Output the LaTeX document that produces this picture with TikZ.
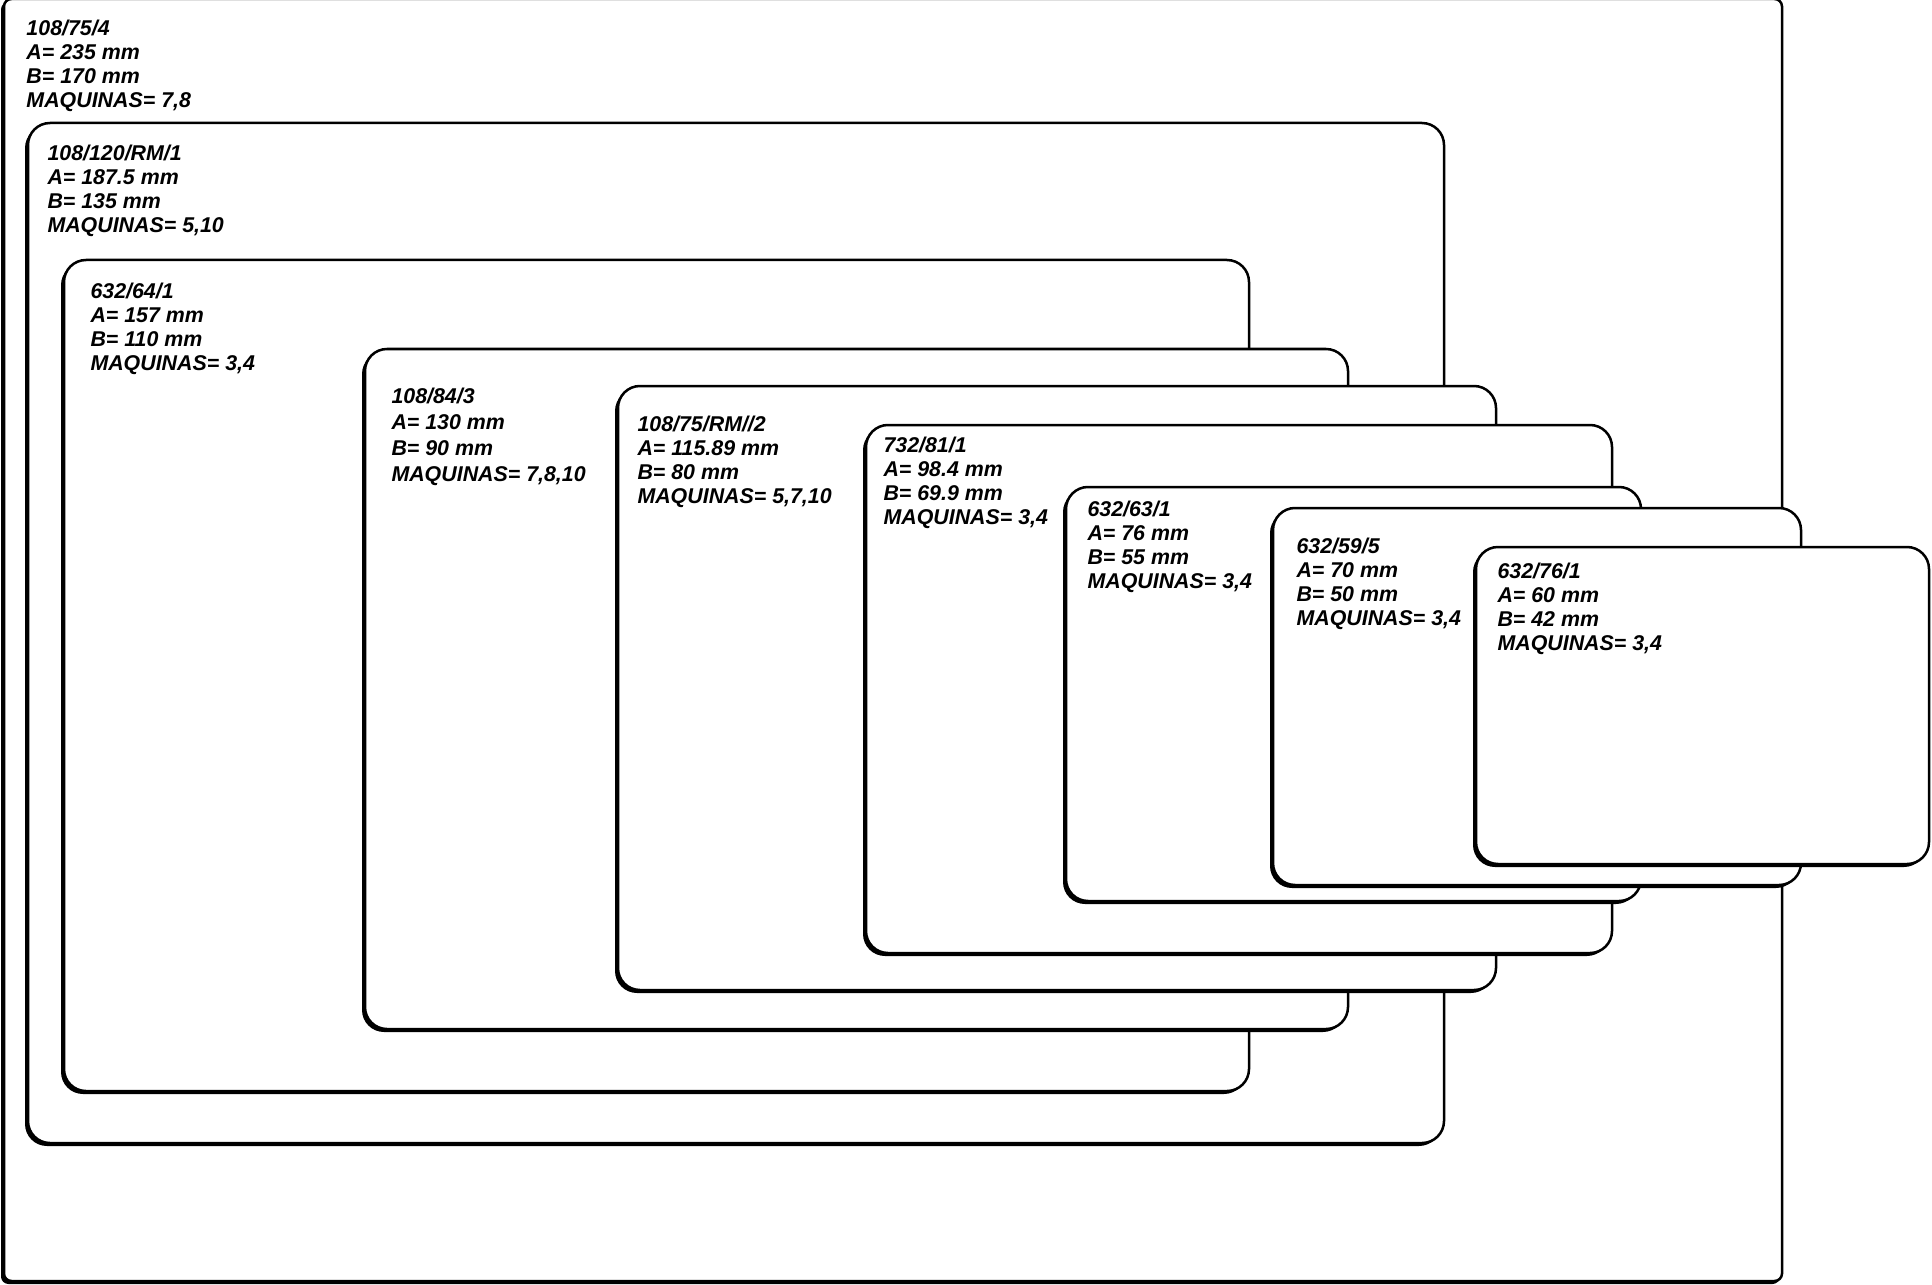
\documentclass[tikz,border=0pt]{standalone}
\usepackage{fontspec}
\setmainfont{Liberation Sans}
\tikzset{
  plancha/.style={draw=black, line width=1pt, fill=white, rounded corners=8.8pt},
  sombra/.style={fill=black, rounded corners=8.8pt},
  etiqueta/.style={anchor=north west, inner sep=0pt, align=left,
    font=\fontsize{8.55pt}{9.6pt}\selectfont\bfseries\itshape}
}
\begin{document}
\begin{tikzpicture}[x=0.4pt, y=-0.4pt]
    \useasboundingbox (0,0) rectangle (1932,1285);
    % formato exterior
    \fill[sombra, rounded corners=3pt] (1,2) rectangle (1780,1284);
    \draw[plancha, rounded corners=3pt] (4,-1) rectangle (1782,1281);
    \node[etiqueta] (f1) at (26,20) {108/75/4\\A= 235 mm\\B= 170 mm\\MAQUINAS= 7,8};
    % 108/120/RM/1
    \fill[sombra] (25,126) rectangle (1441,1146);
    \draw[plancha] (28,123) rectangle (1444,1143);
    \node[etiqueta] (f2) at (47,145) {108/120/RM/1\\A= 187.5 mm\\B= 135 mm\\MAQUINAS= 5,10};
    % 632/64/1
    \fill[sombra] (61,263) rectangle (1246,1094);
    \draw[plancha] (64,260) rectangle (1249,1091);
    \node[etiqueta] (f3) at (90,283) {632/64/1\\A= 157 mm\\B= 110 mm\\MAQUINAS= 3,4};
    % 108/84/3
    \fill[sombra] (362,352) rectangle (1345,1032);
    \draw[plancha] (365,349) rectangle (1348,1029);
    \node[etiqueta, font=\fontsize{8.55pt}{10.4pt}\selectfont\bfseries\itshape] (f4) at (391,388)
      {108/84/3\\A= 130 mm\\B= 90 mm\\MAQUINAS= 7,8,10};
    % 108/75/RM//2
    \fill[sombra] (615,389) rectangle (1493,993);
    \draw[plancha] (618,386) rectangle (1496,990);
    \node[etiqueta] (f5) at (637,416) {108/75/RM//2\\A= 115.89 mm\\B= 80 mm\\MAQUINAS= 5,7,10};
    % 732/81/1
    \fill[sombra] (863,428) rectangle (1609,956);
    \draw[plancha] (866,425) rectangle (1612,953);
    \node[etiqueta] (f6) at (883,437) {732/81/1\\A= 98.4 mm\\B= 69.9 mm\\MAQUINAS= 3,4};
    % 632/63/1
    \fill[sombra] (1063,490) rectangle (1638,904);
    \draw[plancha] (1066,487) rectangle (1641,901);
    \node[etiqueta] (f7) at (1087,501) {632/63/1\\A= 76 mm\\B= 55 mm\\MAQUINAS= 3,4};
    % 632/59/5
    \fill[sombra] (1270,511) rectangle (1798,888);
    \draw[plancha] (1273,508) rectangle (1801,885);
    \node[etiqueta] (f8) at (1296,538) {632/59/5\\A= 70 mm\\B= 50 mm\\MAQUINAS= 3,4};
    % 632/76/1
    \fill[sombra] (1473,550) rectangle (1926,867);
    \draw[plancha] (1476,547) rectangle (1929,864);
    \node[etiqueta] (f9) at (1497,563) {632/76/1\\A= 60 mm\\B= 42 mm\\MAQUINAS= 3,4};
\end{tikzpicture}
\end{document}
